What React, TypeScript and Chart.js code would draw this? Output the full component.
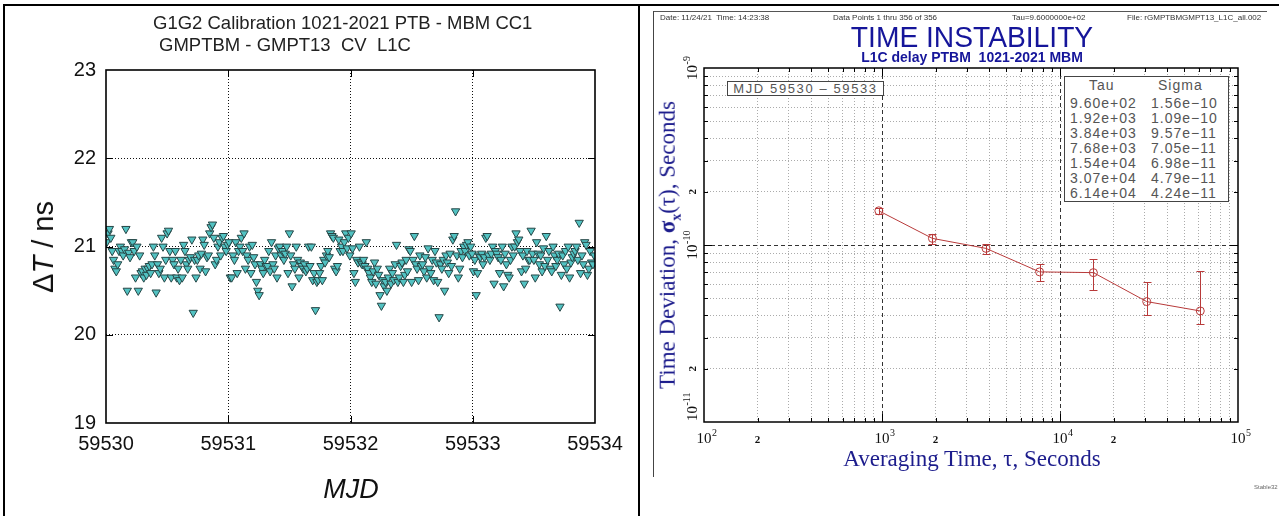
import React, { useEffect, useRef } from "react";
import { Chart, registerables } from "chart.js";

Chart.register(...registerables);

// ---------------- Left panel data (ΔT in ns, one array per MJD day) ----------------
const MJD_START = 59530;
const MJD_END = 59534;
const X_TICKS_MJD = [59530, 59531, 59532, 59533, 59534];
const Y_TICKS_NS = [19, 20, 21, 22, 23];

const DAY0_NS = [
  21.05, 21.15, 21.2, 21.1, 20.95,
  20.85, 20.75, 20.72, 20.8, 20.95, 21.0,
  20.95, 20.9, 20.97, 21.2, 20.5, 20.93, 20.88,
  21.05, 21.05, 20.95, 20.65, 21.0, 20.5,
  20.9, 20.7, 20.72, 20.65, 20.75, 20.68, 20.75, 20.78, 20.7, 20.8,
  21.0, 20.9, 20.48, 20.8, 20.7, 20.75, 21.1, 21.0, 20.65, 20.85,
  21.15, 21.18, 20.95, 20.65, 20.85, 20.8, 20.95, 20.65, 20.75, 20.62, 20.85,
  20.65, 21.02, 20.95, 20.8, 20.75, 20.85, 20.88, 21.08, 20.25, 20.85,
  20.65, 20.85, 20.9, 20.75, 20.92, 21.08, 21.02, 20.72, 20.88, 20.9,
  21.15, 21.22, 21.25, 21.1, 20.8, 20.85, 21.0, 21.05, 20.9, 21.1, 21.12, 21.0, 20.95, 21.02,
];
const DAY1_NS = [
  21.05, 20.65, 20.65, 20.9, 20.85, 21.05, 20.7, 20.95, 21.0,
  21.1, 20.95, 21.15, 20.75, 20.9, 20.85, 21.0, 20.7, 21.02, 20.88, 20.8,
  20.6, 20.5, 20.45, 20.8, 20.75, 20.7, 20.85, 20.78, 20.78, 20.95, 20.72,
  21.05, 20.8, 20.75, 20.9, 20.65, 20.98, 21.0, 20.9, 20.95, 20.85, 20.92,
  21.0, 20.7, 21.15, 20.9, 20.55, 20.8, 20.75, 21.0, 20.85, 20.65, 20.82,
  20.78, 20.75, 20.8, 20.72, 20.75, 21.0, 20.78, 21.0, 20.62, 20.7,
  20.28, 20.6, 20.62, 20.7, 20.78, 20.62, 20.85, 20.82, 20.9, 20.95, 20.88,
  21.15, 21.12, 21.1, 20.75, 20.72, 20.78, 21.08, 20.95,
  21.0, 20.95, 21.05, 21.15, 20.98, 21.1, 20.9,
];
const DAY2_NS = [
  21.15, 20.98, 20.7, 20.6, 20.85, 20.82, 21.0, 20.82, 20.8, 20.85, 20.78,
  21.05, 20.75, 20.7, 20.65, 20.6, 20.72, 20.82, 20.58, 20.75, 20.68,
  20.45, 20.33, 20.62, 20.55, 20.6, 20.5, 20.65, 20.75, 20.58, 20.7, 20.62,
  20.8, 21.02, 20.6, 20.65, 20.78, 20.82, 20.6, 20.68, 20.85, 20.72,
  20.97, 20.95, 20.6, 20.85, 21.12, 20.8, 20.75, 20.62, 20.9, 20.78,
  20.8, 20.72, 20.88, 20.65, 20.98, 20.75, 20.7, 20.85, 20.62, 20.95, 20.82,
  20.6, 20.2, 20.8, 20.75, 20.85, 20.5, 20.9, 20.82, 20.7, 20.92, 20.78,
  21.08, 21.12, 21.4, 20.9, 20.65, 20.75, 20.95, 20.88,
  21.0, 20.95, 21.02, 21.05, 20.9, 21.0, 20.92,
];
const DAY3_NS = [
  20.72, 20.85, 20.45, 20.7, 20.9, 20.88, 20.92, 20.8, 20.88,
  21.1, 21.12, 20.9, 20.85, 20.92, 21.0, 20.58, 20.95, 20.92, 20.88, 20.7,
  20.85, 21.0, 20.55, 20.92, 20.8, 20.68, 20.65, 20.85, 21.0, 20.9, 21.0,
  21.15, 21.05, 21.08, 20.95, 20.72, 20.9, 20.58, 20.75, 20.95, 20.85, 20.85,
  21.18, 20.92, 20.85, 20.65, 21.05, 20.92, 20.8, 20.9, 20.72, 20.98, 20.78,
  21.12, 20.85, 20.95, 20.75, 20.72, 21.0, 20.9, 20.78, 20.85, 20.92,
  20.32, 20.68, 20.9, 20.8, 20.95, 20.75, 21.0, 20.65, 20.82, 20.88, 20.92,
  20.95, 21.0, 20.85, 21.27, 20.7, 20.9, 20.8,
  21.05, 21.02, 20.68, 20.75, 20.95, 20.82, 20.8, 20.9,
];
const DAYS_NS = [DAY0_NS, DAY1_NS, DAY2_NS, DAY3_NS];

// ---------------- Right panel data (TDEV) ----------------
const TAU_S = [960, 1920, 3840, 7680, 15400, 30700, 61400];
const SIGMA_S = [1.56e-10, 1.09e-10, 9.57e-11, 7.05e-11, 6.98e-11, 4.79e-11, 4.24e-11];
const SIGMA_LOW = [1.5e-10, 1.01e-10, 8.9e-11, 6.3e-11, 5.6e-11, 4.0e-11, 3.6e-11];
const SIGMA_HIGH = [1.62e-10, 1.16e-10, 1.01e-10, 7.8e-11, 8.3e-11, 6.2e-11, 7.1e-11];
const TABLE_TAU = ["9.60e+02", "1.92e+03", "3.84e+03", "7.68e+03", "1.54e+04", "3.07e+04", "6.14e+04"];
const TABLE_SIGMA = ["1.56e\u221210", "1.09e\u221210", "9.57e\u221211", "7.05e\u221211", "6.98e\u221211", "4.79e\u221211", "4.24e\u221211"];
const X_DECADES = [2, 3, 4, 5];
const Y_DECADES = [-11, -10, -9];
const MINOR_STEPS = [1, 2, 3, 4, 5, 6, 7, 8, 9];
const MINOR_LABEL_STEP = 2;

const SANS = "'Liberation Sans', Arial, sans-serif";
const SERIF = "'Liberation Serif', 'Times New Roman', serif";
const SERIES = "#b83a3a";
const NAVY = "#1c1c8c";

const gridValues = (decades: number[]) =>
  decades
    .slice(0, -1)
    .flatMap((e) => MINOR_STEPS.map((m) => m * Math.pow(10, e)))
    .concat([Math.pow(10, decades[decades.length - 1])]);

const X_GRID = gridValues(X_DECADES);
const Y_GRID = gridValues(Y_DECADES);

const isDecade = (v: number) => {
  if (!v) return false;
  const l = Math.log10(v);
  return Math.abs(l - Math.round(l)) < 1e-6;
};
const near = (a: number, b: number) => Math.abs(a - b) <= Math.abs(b) * 1e-6;

// ---------------- Plugins ----------------
function framePlugin(id: string, width: number, majorLen: number, minorLen: number, majorTest: (v: number) => boolean) {
  return {
    id,
    afterDatasetsDraw(chart: any) {
      const { ctx, chartArea: a, scales } = chart;
      ctx.save();
      ctx.strokeStyle = "#000";
      ctx.lineWidth = 1;
      const xs = scales.x;
      const ys = scales.y;
      ctx.beginPath();
      xs.ticks.forEach((t: any) => {
        if (near(t.value, xs.min) || near(t.value, xs.max)) return;
        const L = majorTest(t.value) ? majorLen : minorLen;
        const px = Math.round(xs.getPixelForValue(t.value)) + 0.5;
        ctx.moveTo(px, a.bottom);
        ctx.lineTo(px, a.bottom - L);
        ctx.moveTo(px, a.top);
        ctx.lineTo(px, a.top + L);
      });
      ys.ticks.forEach((t: any) => {
        if (near(t.value, ys.min) || near(t.value, ys.max)) return;
        const L = majorTest(t.value) ? majorLen : minorLen;
        const py = Math.round(ys.getPixelForValue(t.value)) + 0.5;
        ctx.moveTo(a.left, py);
        ctx.lineTo(a.left + L, py);
        ctx.moveTo(a.right, py);
        ctx.lineTo(a.right - L, py);
      });
      ctx.stroke();
      ctx.lineWidth = width;
      ctx.strokeRect(a.left, a.top, a.right - a.left, a.bottom - a.top);
      ctx.restore();
    },
  };
}

const errorBarsPlugin = {
  id: "errorBars",
  afterDatasetsDraw(chart: any) {
    const { ctx, scales } = chart;
    ctx.save();
    ctx.strokeStyle = SERIES;
    ctx.lineWidth = 1;
    ctx.beginPath();
    TAU_S.forEach((t, i) => {
      const px = Math.round(scales.x.getPixelForValue(t)) + 0.5;
      const lo = Math.round(scales.y.getPixelForValue(SIGMA_LOW[i])) + 0.5;
      const hi = Math.round(scales.y.getPixelForValue(SIGMA_HIGH[i])) + 0.5;
      ctx.moveTo(px, lo);
      ctx.lineTo(px, hi);
      ctx.moveTo(px - 4, lo);
      ctx.lineTo(px + 4, lo);
      ctx.moveTo(px - 4, hi);
      ctx.lineTo(px + 4, hi);
    });
    ctx.stroke();
    ctx.restore();
  },
};

function drawPower(ctx: CanvasRenderingContext2D, start: number, baseline: number, exp: string) {
  ctx.font = `15px ${SERIF}`;
  ctx.textAlign = "left";
  ctx.textBaseline = "alphabetic";
  ctx.fillText("10", start, baseline);
  const w1 = ctx.measureText("10").width;
  ctx.font = `10px ${SERIF}`;
  ctx.fillText(exp, start + w1 + 0.5, baseline - 7);
}
function powerWidth(ctx: CanvasRenderingContext2D, exp: string) {
  ctx.font = `15px ${SERIF}`;
  const w1 = ctx.measureText("10").width;
  ctx.font = `10px ${SERIF}`;
  return { w1, total: w1 + 0.5 + ctx.measureText(exp).width };
}

const logLabelsPlugin = {
  id: "logLabels",
  afterDraw(chart: any) {
    const { ctx, chartArea: a, scales } = chart;
    const xs = scales.x;
    const ys = scales.y;
    ctx.save();
    ctx.fillStyle = "#111";
    const xBase = a.bottom + 21;
    X_DECADES.forEach((e) => {
      const px = xs.getPixelForValue(Math.pow(10, e));
      const { w1 } = powerWidth(ctx, String(e));
      drawPower(ctx, px - w1 / 2, xBase, String(e));
    });
    X_DECADES.slice(0, -1).forEach((e) => {
      const px = xs.getPixelForValue(MINOR_LABEL_STEP * Math.pow(10, e));
      ctx.font = `bold 11px ${SERIF}`;
      ctx.textAlign = "center";
      ctx.fillText(String(MINOR_LABEL_STEP), px, xBase);
    });
    const yx = a.left - 12;
    Y_DECADES.forEach((e, i) => {
      const py = ys.getPixelForValue(Math.pow(10, e));
      const exp = "-" + String(-e);
      const { total } = powerWidth(ctx, exp);
      ctx.save();
      ctx.translate(yx, py);
      ctx.rotate(-Math.PI / 2);
      const start = i === 0 ? 1 : -total / 2;
      drawPower(ctx, start, 5, exp);
      ctx.restore();
    });
    Y_DECADES.slice(0, -1).forEach((e) => {
      const py = ys.getPixelForValue(MINOR_LABEL_STEP * Math.pow(10, e));
      ctx.save();
      ctx.translate(yx, py);
      ctx.rotate(-Math.PI / 2);
      ctx.font = `bold 11px ${SERIF}`;
      ctx.textAlign = "center";
      ctx.fillText(String(MINOR_LABEL_STEP), 0, 4);
      ctx.restore();
    });
    ctx.restore();
  },
};

// ---------------- Configs ----------------
const leftPoints = DAYS_NS.flatMap((vals, d) =>
  vals.map((v, i) => ({ x: MJD_START + d + (i + 0.5) / vals.length, y: v }))
);

const edgeTransparent = (min: number, max: number, col: string) => (c: any) => {
  const v = c.tick ? c.tick.value : NaN;
  if (v === undefined || isNaN(v) || near(v, min) || near(v, max)) return "rgba(0,0,0,0)";
  return col;
};

function leftConfig(): any {
  return {
    type: "scatter",
    data: {
      datasets: [
        {
          data: leftPoints,
          pointStyle: "triangle",
          rotation: 180,
          pointRadius: 4.8,
          backgroundColor: "#52c2c2",
          borderColor: "#264646",
          borderWidth: 1,
        },
      ],
    },
    options: {
      animation: false,
      responsive: false,
      devicePixelRatio: 1,
      layout: { padding: { top: 70, right: 45, bottom: 0, left: 0 } },
      plugins: { legend: { display: false }, tooltip: { enabled: false }, title: { display: false } },
      scales: {
        x: {
          type: "linear",
          min: MJD_START,
          max: MJD_END,
          afterBuildTicks: (s: any) => {
            s.ticks = X_TICKS_MJD.map((v) => ({ value: v }));
          },
          afterFit: (s: any) => {
            s.height = 93;
          },
          ticks: {
            autoSkip: false,
            maxRotation: 0,
            padding: 9,
            color: "#111",
            font: { family: SANS, size: 20 },
            callback: (v: any) => String(v),
          },
          grid: { drawTicks: false, lineWidth: 1, color: edgeTransparent(MJD_START, MJD_END, "#111") },
          border: { display: false, dash: [1, 2] },
        },
        y: {
          type: "linear",
          min: Y_TICKS_NS[0],
          max: Y_TICKS_NS[Y_TICKS_NS.length - 1],
          afterBuildTicks: (s: any) => {
            s.ticks = Y_TICKS_NS.map((v) => ({ value: v }));
          },
          afterFit: (s: any) => {
            s.width = 106;
          },
          ticks: {
            autoSkip: false,
            padding: 10,
            color: "#111",
            font: { family: SANS, size: 20 },
            callback: (v: any) => String(v),
          },
          grid: {
            drawTicks: false,
            lineWidth: 1,
            color: edgeTransparent(Y_TICKS_NS[0], Y_TICKS_NS[Y_TICKS_NS.length - 1], "#111"),
          },
          border: { display: false, dash: [1, 2] },
        },
      },
    },
    plugins: [framePlugin("leftFrame", 1.6, 7, 7, () => true)],
  };
}

function rightConfig(): any {
  const logGridColor = (min: number, max: number) => (c: any) => {
    const v = c.tick ? c.tick.value : NaN;
    if (v === undefined || isNaN(v) || near(v, min) || near(v, max)) return "rgba(0,0,0,0)";
    return isDecade(v) ? "#333" : "#ababab";
  };
  const logDash = (c: any) => (c.tick && isDecade(c.tick.value) ? [4, 3] : [1, 2]);
  const xMin = Math.pow(10, X_DECADES[0]);
  const xMax = Math.pow(10, X_DECADES[X_DECADES.length - 1]);
  const yMin = Math.pow(10, Y_DECADES[0]);
  const yMax = Math.pow(10, Y_DECADES[Y_DECADES.length - 1]);
  return {
    type: "scatter",
    data: {
      datasets: [
        {
          data: TAU_S.map((t, i) => ({ x: t, y: SIGMA_S[i] })),
          showLine: true,
          borderColor: SERIES,
          borderWidth: 1,
          pointStyle: "circle",
          pointRadius: 4,
          pointBackgroundColor: "rgba(0,0,0,0)",
          pointBorderColor: SERIES,
          pointBorderWidth: 1,
        },
      ],
    },
    options: {
      animation: false,
      responsive: false,
      devicePixelRatio: 1,
      layout: { padding: { top: 53, right: 41, bottom: 0, left: 0 } },
      plugins: { legend: { display: false }, tooltip: { enabled: false }, title: { display: false } },
      scales: {
        x: {
          type: "logarithmic",
          min: xMin,
          max: xMax,
          afterBuildTicks: (s: any) => {
            s.ticks = X_GRID.map((v) => ({ value: v }));
          },
          afterFit: (s: any) => {
            s.height = 63;
          },
          ticks: { display: false },
          grid: { drawTicks: false, lineWidth: 1, color: logGridColor(xMin, xMax) },
          border: { display: false, dash: logDash },
        },
        y: {
          type: "logarithmic",
          min: yMin,
          max: yMax,
          afterBuildTicks: (s: any) => {
            s.ticks = Y_GRID.map((v) => ({ value: v }));
          },
          afterFit: (s: any) => {
            s.width = 50;
          },
          ticks: { display: false },
          grid: { drawTicks: false, lineWidth: 1, color: logGridColor(yMin, yMax) },
          border: { display: false, dash: logDash },
        },
      },
    },
    plugins: [errorBarsPlugin, framePlugin("rightFrame", 1.5, 8, 4, isDecade), logLabelsPlugin],
  };
}

// ---------------- Component ----------------
const abs = (s: React.CSSProperties): React.CSSProperties => ({ position: "absolute", ...s });

export default function App() {
  const leftRef = useRef<HTMLCanvasElement>(null);
  const rightRef = useRef<HTMLCanvasElement>(null);

  useEffect(() => {
    const c1 = new Chart(leftRef.current as HTMLCanvasElement, leftConfig());
    const c2 = new Chart(rightRef.current as HTMLCanvasElement, rightConfig());
    return () => {
      c1.destroy();
      c2.destroy();
    };
  }, []);

  const header: React.CSSProperties = {
    position: "absolute",
    top: 13,
    fontFamily: SANS,
    fontSize: 8,
    lineHeight: "10px",
    color: "#333",
    whiteSpace: "pre",
  };
  const tableText: React.CSSProperties = {
    position: "absolute",
    fontFamily: SANS,
    fontSize: 14,
    lineHeight: "15px",
    color: "#555",
    letterSpacing: 1,
    whiteSpace: "pre",
  };

  return (
    <div
      style={{
        position: "fixed",
        left: 0,
        top: 0,
        width: 1279,
        height: 516,
        background: "#fff",
        overflow: "hidden",
        fontFamily: SANS,
      }}
    >
      {/* table borders */}
      <div style={abs({ left: 3, top: 4, width: 1276, height: 2, background: "#000" })} />
      <div style={abs({ left: 3, top: 4, width: 2, height: 512, background: "#000" })} />
      <div style={abs({ left: 638, top: 4, width: 2, height: 512, background: "#000" })} />
      {/* right image thin frame */}
      <div style={abs({ left: 653, top: 11, width: 614, height: 1, background: "#555" })} />
      <div style={abs({ left: 653, top: 11, width: 1, height: 466, background: "#444" })} />

      {/* ---------- left panel ---------- */}
      <canvas
        ref={leftRef}
        width={640}
        height={516}
        style={abs({ left: 0, top: 0, width: 640, height: 516, display: "block" })}
      />
      <div style={abs({ left: 153, top: 13, fontSize: 18.5, lineHeight: "20px", color: "#222", whiteSpace: "pre" })}>
        G1G2 Calibration 1021-2021 PTB - MBM CC1
      </div>
      <div style={abs({ left: 159, top: 35, fontSize: 18.5, lineHeight: "20px", color: "#222", whiteSpace: "pre" })}>
        {"GMPTBM - GMPT13  CV  L1C"}
      </div>
      <div
        style={abs({
          left: 43,
          top: 247,
          fontSize: 29,
          lineHeight: "30px",
          color: "#111",
          whiteSpace: "pre",
          transform: "translate(-50%, -50%) rotate(-90deg)",
        })}
      >
        {"\u0394"}
        <i>T</i>
        {" / ns"}
      </div>
      <div
        style={abs({
          left: 351,
          top: 489,
          fontSize: 27,
          lineHeight: "30px",
          fontStyle: "italic",
          color: "#111",
          transform: "translate(-50%, -50%)",
        })}
      >
        MJD
      </div>

      {/* ---------- right panel ---------- */}
      <canvas
        ref={rightRef}
        width={625}
        height={470}
        style={abs({ left: 654, top: 15, width: 625, height: 470, display: "block" })}
      />
      <div style={{ ...header, left: 660 }}>{"Date: 11/24/21  Time: 14:23:38"}</div>
      <div style={{ ...header, left: 833 }}>{"Data Points 1 thru 356 of 356"}</div>
      <div style={{ ...header, left: 1012 }}>{"Tau=9.6000000e+02"}</div>
      <div style={{ ...header, left: 1127 }}>{"File: rGMPTBMGMPT13_L1C_all.002"}</div>

      <div
        style={abs({
          left: 972,
          top: 22,
          fontSize: 30,
          lineHeight: "30px",
          color: "#15159a",
          whiteSpace: "pre",
          transform: "translateX(-50%) scaleX(0.94)",
        })}
      >
        TIME INSTABILITY
      </div>
      <div
        style={abs({
          left: 972,
          top: 50,
          fontSize: 14,
          lineHeight: "14px",
          fontWeight: "bold",
          color: "#15159a",
          whiteSpace: "pre",
          transform: "translateX(-50%)",
        })}
      >
        {"L1C delay PTBM  1021-2021 MBM"}
      </div>

      <div
        style={abs({
          left: 727,
          top: 81,
          width: 155,
          height: 13,
          border: "1px solid #444",
          background: "#fff",
          fontSize: 13,
          lineHeight: "14px",
          color: "#555",
          letterSpacing: 1.6,
          textAlign: "center",
          whiteSpace: "pre",
        })}
      >
        {"MJD 59530 \u2013 59533"}
      </div>

      <div style={abs({ left: 1064, top: 76, width: 163, height: 124, border: "1px solid #444", background: "#fff" })} />
      <div style={{ ...tableText, left: 1089, top: 78 }}>Tau</div>
      <div style={{ ...tableText, left: 1158, top: 78 }}>Sigma</div>
      {TABLE_TAU.map((t, i) => (
        <div key={"t" + i} style={{ ...tableText, left: 1070, top: 96 + i * 15 }}>
          {t}
        </div>
      ))}
      {TABLE_SIGMA.map((s, i) => (
        <div key={"s" + i} style={{ ...tableText, left: 1151, top: 96 + i * 15 }}>
          {s}
        </div>
      ))}

      <div
        style={abs({
          left: 972,
          top: 459,
          fontFamily: SERIF,
          fontSize: 23,
          lineHeight: "26px",
          color: NAVY,
          whiteSpace: "pre",
          transform: "translate(-50%, -50%)",
        })}
      >
        {"Averaging Time, \u03c4, Seconds"}
      </div>
      <div
        style={abs({
          left: 672,
          top: 245,
          fontFamily: SERIF,
          fontSize: 23,
          lineHeight: "26px",
          color: NAVY,
          whiteSpace: "pre",
          transform: "translate(-50%, -50%) rotate(-90deg)",
        })}
      >
        {"Time Deviation, "}
        <b>{"\u03c3"}</b>
        <sub style={{ fontSize: 14, fontWeight: "bold" }}>x</sub>
        {"(\u03c4), Seconds"}
      </div>
      <div style={abs({ left: 1254, top: 484, fontSize: 6, lineHeight: "7px", color: "#666" })}>Stable32</div>
    </div>
  );
}
